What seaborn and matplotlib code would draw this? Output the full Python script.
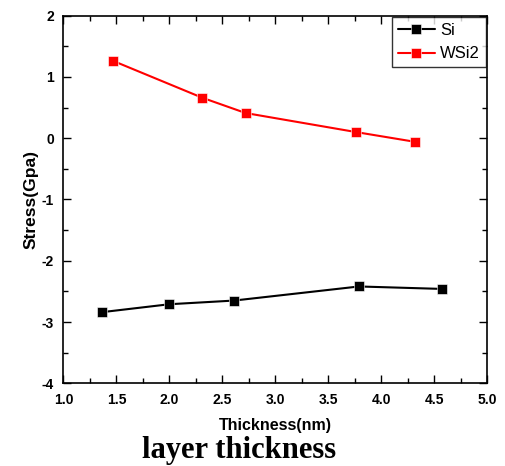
import pandas as pd
import matplotlib.pyplot as plt
import seaborn as sns

# values
si_thickness = [1.36, 2.00, 2.61, 3.79, 4.57]
si_stress = [-2.84, -2.71, -2.65, -2.42, -2.46]
wsi2_thickness = [1.47, 2.31, 2.72, 3.76, 4.32]
wsi2_stress = [1.26, 0.66, 0.41, 0.10, -0.06]
series_names = ["Si", "WSi2"]
series_colors = ["black", "red"]

df = pd.concat([
    pd.DataFrame({"Thickness": si_thickness, "Stress": si_stress, "Material": series_names[0]}),
    pd.DataFrame({"Thickness": wsi2_thickness, "Stress": wsi2_stress, "Material": series_names[1]}),
])

sns.set_style("ticks", {"text.color": "black", "axes.labelcolor": "black",
                        "xtick.color": "black", "ytick.color": "black",
                        "axes.edgecolor": "black"})
plt.rcParams["font.family"] = ["Liberation Sans", "DejaVu Sans"]

fig = plt.figure(figsize=(5.05, 4.66), dpi=100)
ax = fig.add_axes([0.1257, 0.1775, 0.839, 0.789])

sns.lineplot(data=df, x="Thickness", y="Stress", hue="Material",
             palette=dict(zip(series_names, series_colors)), marker="s",
             markersize=7.5, markeredgecolor="white", markeredgewidth=0.4,
             linewidth=1.5, ax=ax)

ax.set_xlim(1.0, 5.0)
ax.set_ylim(-4, 2)
ax.set_xticks([1.0, 1.5, 2.0, 2.5, 3.0, 3.5, 4.0, 4.5, 5.0])
ax.set_xticks([1.25 + 0.5 * i for i in range(8)], minor=True)
ax.set_yticks([-4, -3, -2, -1, 0, 1, 2])
ax.set_yticks([-3.5, -2.5, -1.5, -0.5, 0.5, 1.5], minor=True)
ax.tick_params(which="both", direction="in", top=True, right=True, width=1, colors="black")
ax.tick_params(which="major", length=6, pad=7)
ax.tick_params(which="minor", length=3.5)
ax.set_xticklabels([f"{v:.1f}" for v in ax.get_xticks()], fontweight="bold", fontsize=10)
ax.set_yticklabels([f"{v:d}" for v in [-4, -3, -2, -1, 0, 1, 2]], fontweight="bold", fontsize=10)
for s in ax.spines.values():
    s.set_linewidth(1.2)
    s.set_color("black")

ax.set_xlabel("Thickness(nm)", fontweight="bold", fontsize=11.5, labelpad=8, color="black")
ax.set_ylabel("Stress(Gpa)", fontweight="bold", fontsize=12.5, labelpad=2, color="black")

leg = ax.legend(loc="upper right", fontsize=12, frameon=True, fancybox=False,
                edgecolor="black", handlelength=2.2, borderaxespad=0.1,
                borderpad=0.35, labelspacing=0.5, handletextpad=0.3)
leg.get_frame().set_linewidth(1.0)
leg.set_title(None)
for t in leg.get_texts():
    t.set_color("black")

fig.text(0.473, 0.018, "layer thickness", family=["Liberation Serif", "DejaVu Serif"],
         fontweight="bold", fontsize=22, ha="center", va="baseline", color="black")

plt.savefig("out.png", dpi=100)
plt.close()
